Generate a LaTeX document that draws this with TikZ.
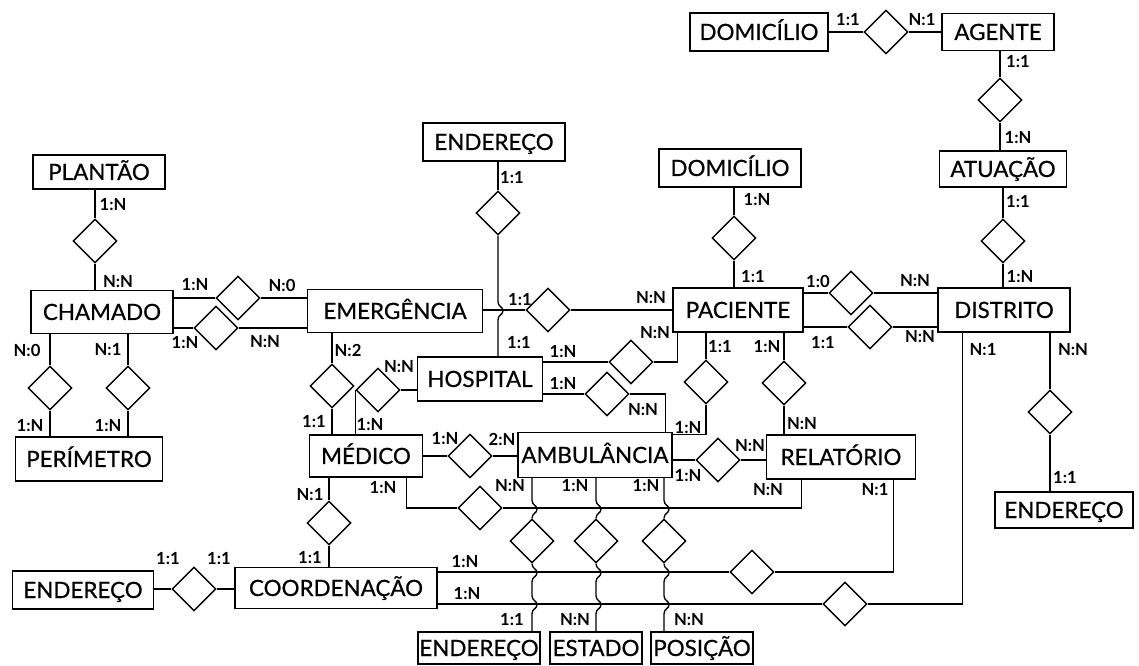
\documentclass[tikz,border=0pt]{standalone}
\usepackage{fontspec}
\setmainfont{Lato}
\newfontfamily\erEntFam{Lato}[FakeBold=0.6]
\usetikzlibrary{shapes.geometric}
\newcommand\erEnt{\erEntFam\fontsize{16.8}{19}\selectfont}
\newcommand\erLab{\fontsize{12.5}{14}\selectfont\bfseries}
\begin{document}
\begin{tikzpicture}[x=0.75pt,y=-0.75pt,
  ent/.style 2 args={draw,line width=1.1pt,minimum width=#1*0.75pt,minimum height=#2*0.75pt,
    inner sep=0pt,font=\erEnt,text height=12pt,text depth=0pt},
  rel/.style={draw,diamond,minimum size=33pt,inner sep=0pt,line width=1.1pt},
  lab/.style={font=\erLab,inner sep=0pt},
  link/.style={line width=1pt},
  hopdn/.style={insert path={.. controls +(0,5) and +(0,-4) .. ++(5,9) .. controls +(0,4) and +(0,-5) .. ++(-5,9)}}
]
\fill[white] (0,0) rectangle (1139,666);
\useasboundingbox (0,0) rectangle (1139,666);

% entities
\node[ent={138}{38}] (domA) at (759,32) {DOMICÍLIO};
\node[ent={112}{37}] (agente) at (998,32) {AGENTE};
\node[ent={127}{36}] (atuacao) at (1003,169) {ATUAÇÃO};
\node[ent={132}{44}] (distrito) at (1004,310) {DISTRITO};
\node[ent={142}{38}] (domP) at (730,168) {DOMICÍLIO};
\node[ent={130}{44}] (paciente) at (738,310) {PACIENTE};
\node[ent={142}{38}] (endH) at (494,142) {ENDEREÇO};
\node[ent={132}{34}] (plantao) at (99,172) {PLANTÃO};
\node[ent={142}{43}] (chamado) at (102,312) {CHAMADO};
\node[ent={175}{43}] (emerg) at (395,311) {EMERGÊNCIA};
\node[ent={125}{44}] (hospital) at (480,379) {HOSPITAL};
\node[ent={147}{44}] (perimetro) at (89,459) {PERÍMETRO};
\node[ent={113}{42}] (medico) at (366,456) {MÉDICO};
\node[ent={154}{45}] (ambul) at (595,455) {AMBULÂNCIA};
\node[ent={149}{44}] (relat) at (841,457) {RELATÓRIO};
\node[ent={138}{36}] (endD) at (1064,510) {ENDEREÇO};
\node[ent={202}{41}] (coord) at (336,588) {COORDENAÇÃO};
\node[ent={141}{38}] (endC) at (83,590) {ENDEREÇO};
\node[ent={122}{32}] (endA) at (479,648) {ENDEREÇO};
\node[ent={92}{32}] (estado) at (596,648) {ESTADO};
\node[ent={102}{32}] (posicao) at (702,648) {POSIÇÃO};

% relationships
\node[rel] (r1) at (886,32) {};
\node[rel] (r2) at (1000,100) {};
\node[rel] (r3) at (1003,241) {};
\node[rel] (r4) at (851,293) {};
\node[rel] (r5) at (870,327) {};
\node[rel] (r6) at (1050,412) {};
\node[rel] (r7) at (734,238) {};
\node[rel] (r8) at (548,310) {};
\node[rel] (r9) at (498,213) {};
\node[rel] (r10) at (95,241) {};
\node[rel] (r11) at (238,298) {};
\node[rel] (r12) at (216,328) {};
\node[rel] (r13) at (50,388) {};
\node[rel] (r14) at (128,388) {};
\node[rel] (r15) at (332,386) {};
\node[rel] (r16) at (378,390) {};
\node[rel] (r17) at (631,362) {};
\node[rel] (r18) at (607,394) {};
\node[rel] (r19) at (706,382) {};
\node[rel] (r20) at (784,383) {};
\node[rel] (r21) at (470,456) {};
\node[rel] (r22) at (718,460) {};
\node[rel] (r23) at (480,508) {};
\node[rel] (r24) at (329,523) {};
\node[rel] (r25) at (194,589) {};
\node[rel] (r26) at (532,541) {};
\node[rel] (r27) at (596,541) {};
\node[rel] (r28) at (664,541) {};
\node[rel] (r29) at (752,572) {};
\node[rel] (r30) at (845,604) {};

% connectors
\draw[link] (domA.east) -- (r1.west);
\draw[link] (r1.east) -- (agente.west);
\draw[link] (r2.north |- agente.south) -- (r2.north);
\draw[link] (r2.south) -- (r2.south |- atuacao.north);
\draw[link] (r3.north |- atuacao.south) -- (r3.north);
\draw[link] (r3.south) -- (r3.south |- distrito.north);
\draw[link] (paciente.east |- r4.west) -- (r4.west);
\draw[link] (r4.east) -- (distrito.west |- r4.east);
\draw[link] (paciente.east |- r5.west) -- (r5.west);
\draw[link] (r5.east) -- (distrito.west |- r5.east);
\draw[link] (r6.north |- distrito.south) -- (r6.north);
\draw[link] (r6.south) -- (r6.south |- endD.north);
\draw[link] (r7.north |- domP.south) -- (r7.north);
\draw[link] (r7.south) -- (r7.south |- paciente.north);
\draw[link] (emerg.east |- r8.west) -- (r8.west);
\draw[link] (r8.east) -- (paciente.west |- r8.east);
\draw[link] (r9.north |- endH.south) -- (r9.north);
\draw[link] (r9.south) -- ++(0,66) [hopdn] -- (r9.south |- hospital.north);
\draw[link] (r10.north |- plantao.south) -- (r10.north);
\draw[link] (r10.south) -- (r10.south |- chamado.north);
\draw[link] (chamado.east |- r11.west) -- (r11.west);
\draw[link] (r11.east) -- (emerg.west |- r11.east);
\draw[link] (chamado.east |- r12.west) -- (r12.west);
\draw[link] (r12.east) -- (emerg.west |- r12.east);
\draw[link] (r13.north |- chamado.south) -- (r13.north);
\draw[link] (r13.south) -- (r13.south |- perimetro.north);
\draw[link] (r14.north |- chamado.south) -- (r14.north);
\draw[link] (r14.south) -- (r14.south |- perimetro.north);
\draw[link] (r15.north |- emerg.south) -- (r15.north);
\draw[link] (r15.south) -- (r15.south |- medico.north);
\draw[link] (hospital.west |- r16.east) -- (r16.east);
\draw[link] (r16.west) -- (r16.west |- medico.north);
\draw[link] (hospital.east |- r17.west) -- (r17.west);
\draw[link] (r17.east) -| ([xshift=3.75pt]paciente.south west);
\draw[link] (hospital.east |- r18.west) -- (r18.west);
\draw[link] (r18.east) -| ([xshift=-5.25pt]ambul.north east);
\draw[link] (r19.north |- paciente.south) -- (r19.north);
\draw[link] (r19.south) |- ([yshift=-2.25pt]ambul.north east);
\draw[link] (r20.north |- paciente.south) -- (r20.north);
\draw[link] (r20.south) -- (r20.south |- relat.north);
\draw[link] (medico.east |- r21.west) -- (r21.west);
\draw[link] (r21.east) -- (ambul.west |- r21.east);
\draw[link] (ambul.east |- r22.west) -- (r22.west);
\draw[link] (r22.east) -- (relat.west |- r22.east);
\draw[link] (r23.west) -| ([xshift=-12.75pt]medico.south east);
\draw[link] (r23.east) -| ([xshift=27pt]relat.south west);
\draw[link] (r24.north |- medico.south) -- (r24.north);
\draw[link] (r24.south) -- (r24.south |- coord.north);
\draw[link] (endC.east |- r25.west) -- (r25.west);
\draw[link] (r25.east) -- (coord.west |- r25.east);
\draw[link] (coord.east |- r29.west) -- (r29.west);
\draw[link] (r29.east) -| ([xshift=-17.25pt]relat.south east);
\draw[link] (coord.east |- r30.west) -- (r30.west);
\draw[link] (r30.east) -| ([xshift=18.75pt]distrito.south west);
% attribute links of AMBULÂNCIA, hopping over the crossing lines
\draw[link] (r26.north |- ambul.south) -- ++(0,22) [hopdn] -- (r26.north);
\draw[link] (r26.south) [hopdn] -- ++(0,14) [hopdn] -- (r26.south |- endA.north);
\draw[link] (r27.north |- ambul.south) -- ++(0,22) [hopdn] -- (r27.north);
\draw[link] (r27.south) [hopdn] -- ++(0,14) [hopdn] -- (r27.south |- estado.north);
\draw[link] (r28.north |- ambul.south) -- ++(0,22) [hopdn] -- (r28.north);
\draw[link] (r28.south) [hopdn] -- ++(0,14) [hopdn] -- (r28.south |- posicao.north);

% cardinalities
\node[lab] (c1) at (848,20) {1:1};
\node[lab] (c2) at (922,20) {N:1};
\node[lab] (c3) at (1018,62) {1:1};
\node[lab] (c4) at (1018,138) {1:N};
\node[lab] (c5) at (1018,202) {1:1};
\node[lab] (c6) at (1020,277) {1:N};
\node[lab] (c7) at (818,281) {1:0};
\node[lab] (c8) at (915,281) {N:N};
\node[lab] (c9) at (823,343) {1:1};
\node[lab] (c10) at (920,337) {N:N};
\node[lab] (c11) at (983,350) {N:1};
\node[lab] (c12) at (1073,350) {N:N};
\node[lab] (c13) at (1065,478) {1:1};
\node[lab] (c14) at (757,200) {1:N};
\node[lab] (c15) at (753,277) {1:1};
\node[lab] (c16) at (651,298) {N:N};
\node[lab] (c17) at (520,300) {1:1};
\node[lab] (c18) at (512,178) {1:1};
\node[lab] (c19) at (519,343) {1:1};
\node[lab] (c20) at (113,205) {1:N};
\node[lab] (c21) at (118,282) {N:N};
\node[lab] (c22) at (195,285) {1:N};
\node[lab] (c23) at (282,285) {N:0};
\node[lab] (c24) at (185,343) {1:N};
\node[lab] (c25) at (265,342) {N:N};
\node[lab] (c26) at (27,350) {N:0};
\node[lab] (c27) at (108,350) {N:1};
\node[lab] (c28) at (30,426) {1:N};
\node[lab] (c29) at (108,426) {1:N};
\node[lab] (c30) at (348,350) {N:2};
\node[lab] (c31) at (314,422) {1:1};
\node[lab] (c32) at (399,367) {N:N};
\node[lab] (c33) at (370,425) {1:N};
\node[lab] (c34) at (563,352) {1:N};
\node[lab] (c35) at (655,333) {N:N};
\node[lab] (c36) at (563,384) {1:N};
\node[lab] (c37) at (643,410) {N:N};
\node[lab] (c38) at (720,347) {1:1};
\node[lab] (c39) at (688,428) {1:N};
\node[lab] (c40) at (767,347) {1:N};
\node[lab] (c41) at (802,424) {N:N};
\node[lab] (c42) at (445,439) {1:N};
\node[lab] (c43) at (502,439) {2:N};
\node[lab] (c44) at (750,446) {N:N};
\node[lab] (c45) at (688,476) {1:N};
\node[lab] (c46) at (383,488) {1:N};
\node[lab] (c47) at (768,490) {N:N};
\node[lab] (c48) at (875,490) {N:1};
\node[lab] (c49) at (310,495) {N:1};
\node[lab] (c50) at (310,558) {1:1};
\node[lab] (c51) at (168,559) {1:1};
\node[lab] (c52) at (219,559) {1:1};
\node[lab] (c53) at (510,486) {N:N};
\node[lab] (c54) at (575,486) {1:N};
\node[lab] (c55) at (646,486) {1:N};
\node[lab] (c56) at (465,562) {1:N};
\node[lab] (c57) at (467,594) {1:N};
\node[lab] (c58) at (512,620) {1:1};
\node[lab] (c59) at (575,620) {N:N};
\node[lab] (c60) at (689,620) {N:N};
\end{tikzpicture}
\end{document}
